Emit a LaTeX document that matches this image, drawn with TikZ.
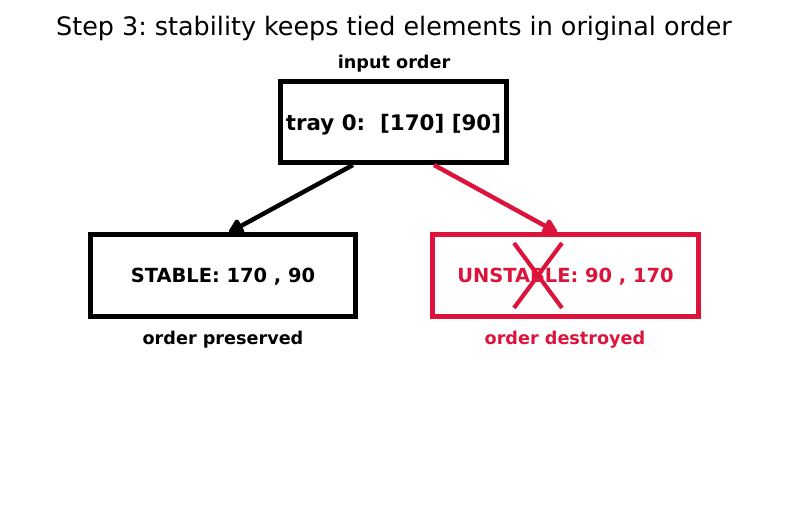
\documentclass[tikz,border=0pt]{standalone}
\usepackage{fontspec}
\setmainfont{DejaVu Sans}
\usepackage{xcolor}
\usetikzlibrary{arrows.meta}
\definecolor{crimson}{RGB}{220,20,60}
\frenchspacing

\begin{document}
\begin{tikzpicture}[x=0.72pt,y=-0.72pt,
  tray/.style={draw,line width=3.6pt,inner sep=0pt,text depth=0pt,font=\bfseries\fontsize{14}{17}\selectfont},
  tag/.style={font=\bfseries\fontsize{12.7}{15}\selectfont},
  link/.style={line width=3.2pt,-{Triangle[length=12pt,width=12.5pt,round]}}]
  \useasboundingbox (0,0) rectangle (787,512);
  % title and the input tray
  \node[font=\fontsize{18.3}{22}\selectfont] (title) at (394,28) {Step 3: stability keeps tied elements in original order};
  \node[tray,font=\bfseries\fontsize{15.4}{18}\selectfont,minimum width=163.4pt,minimum height=58.3pt] (tray) at (393.5,122) {tray 0:\ \ [170] [90]};
  \node[tag] (input) at (394,64) {input order};
  % the two outcomes
  \node[tray,minimum width=191.5pt,minimum height=58.7pt] (stable) at (223,275.75) {STABLE: 170 , 90};
  \node[tray,crimson,minimum width=191.5pt,minimum height=58.7pt] (unstable) at (565.5,275.75) {UNSTABLE: 90 , 170};
  \node[tag] (kept) at (223,340) {order preserved};
  \node[tag,crimson] (lost) at (565,340) {order destroyed};
  \draw[link] ([xshift=-29.2pt]tray.south) -- ([xshift=4.3pt]stable.north);
  \draw[link,crimson] ([xshift=29.2pt]tray.south) -- ([xshift=-6.1pt]unstable.north);
  % cross over the unstable result
  \draw[crimson,line width=3pt] (514,243) -- (562,308) (562,243) -- (514,308);
\end{tikzpicture}
\end{document}
